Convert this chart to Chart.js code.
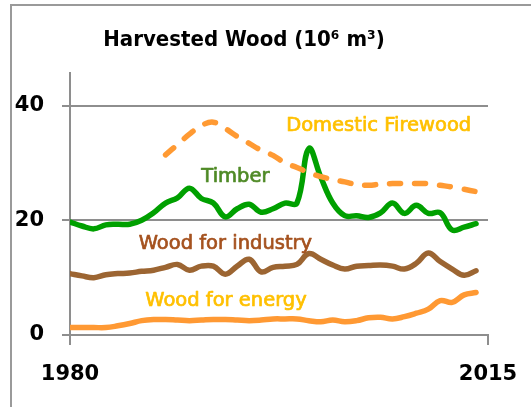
<!DOCTYPE html>
<html>
<head>
<meta charset="utf-8">
<script src="https://cdn.jsdelivr.net/npm/chart.js@4/dist/chart.umd.min.js"></script>
<style>
  html, body { margin: 0; padding: 0; background: #ffffff; }
  #wrap { position: relative; width: 531px; height: 407px; }
</style>
</head>
<body>
<div id="wrap"><canvas id="c" width="531" height="407"></canvas></div>
<script>
// ---- data ----
const years = [1980,1981,1982,1983,1984,1985,1986,1987,1988,1989,1990,1991,1992,1993,1994,1995,1996,1997,1998,1999,2000,2001,2002,2003,2004,2005,2006,2007,2008,2009,2010,2011,2012,2013,2014];
const timber = [19.7,19.0,18.5,19.2,19.3,19.3,20.0,21.3,23.0,23.9,25.6,23.8,23.0,20.6,22.0,22.8,21.4,22.0,23.0,23.0,32.5,27.5,23.0,20.8,20.8,20.5,21.3,23.0,21.2,22.6,21.2,21.3,18.3,18.8,19.4];
const woodIndustry = [10.7,10.3,10.0,10.5,10.7,10.8,11.1,11.3,11.8,12.3,11.3,12.0,12.0,10.6,12.0,13.2,11.0,11.8,12.0,12.3,14.2,13.2,12.2,11.5,12.0,12.1,12.2,12.0,11.5,12.5,14.3,12.8,11.5,10.4,11.2];
const woodEnergy = [1.3,1.3,1.3,1.3,1.6,2.0,2.5,2.7,2.7,2.6,2.5,2.6,2.7,2.7,2.6,2.5,2.6,2.8,2.8,2.8,2.5,2.3,2.6,2.3,2.5,3.0,3.1,2.8,3.2,3.8,4.5,6.0,5.7,7.0,7.4];
const domesticFirewood = [null,null,null,null,null,null,null,null,31.4,33.2,35.0,36.5,37.1,36.0,34.6,33.4,32.2,31.3,30.0,29.2,28.3,27.6,27.1,26.7,26.2,26.1,26.3,26.4,26.4,26.4,26.4,26.1,25.8,25.4,25.0];
const yTicks = [0, 20, 40];
const xTicks = [1980, 2015];
const titleText = 'Harvested Wood (10\u2076 m\u00B3)';
// series labels drawn next to their lines: [text, anchor year, anchor value]
const seriesLabels = [
  ['Domestic Firewood', 1998.1, 35.5],
  ['Timber', 1991.0, 26.7],
  ['Wood for industry', 1985.75, 14.95],
  ['Wood for energy', 1986.3, 5.1]
];
// ---------------------------------------------

const labelColors = ['#FFC000', '#4F8A26', '#A5521F', '#FFC000'];
const pts = arr => years.map((y, i) => ({x: y, y: arr[i]}));

const frame = {
  id: 'frame',
  beforeDraw(chart) {
    const ctx = chart.ctx;
    ctx.save();
    ctx.strokeStyle = '#9A9A9A';
    ctx.lineWidth = 2;
    ctx.beginPath();
    ctx.moveTo(531, 5);
    ctx.lineTo(11, 5);
    ctx.lineTo(11, 407);
    ctx.stroke();
    ctx.restore();
  }
};

const seriesText = {
  id: 'seriesText',
  afterDatasetsDraw(chart) {
    const ctx = chart.ctx;
    const xs = chart.scales.x, ys = chart.scales.y;
    ctx.save();
    ctx.font = '19.5px "DejaVu Sans"';
    ctx.textAlign = 'left';
    ctx.textBaseline = 'alphabetic';
    ctx.lineWidth = 0.7;
    ctx.lineJoin = 'round';
    seriesLabels.forEach((s, i) => {
      const px = xs.getPixelForValue(s[1]);
      const py = ys.getPixelForValue(s[2]);
      ctx.fillStyle = labelColors[i];
      ctx.strokeStyle = labelColors[i];
      ctx.fillText(s[0], px, py);
      ctx.strokeText(s[0], px, py);
    });
    ctx.restore();
  }
};

new Chart(document.getElementById('c'), {
  type: 'line',
  data: {
    datasets: [
      { label: 'Domestic Firewood', data: pts(domesticFirewood), borderColor: '#FF9A33', borderWidth: 5.5, borderDash: [11, 14], borderCapStyle: 'round', tension: 0.4, pointRadius: 0, spanGaps: false },
      { label: 'Timber', data: pts(timber), borderColor: '#00A000', borderWidth: 5.5, tension: 0.4, pointRadius: 0, borderJoinStyle: 'round', borderCapStyle: 'round' },
      { label: 'Wood for industry', data: pts(woodIndustry), borderColor: '#9C6532', borderWidth: 5.5, tension: 0.4, pointRadius: 0, borderJoinStyle: 'round', borderCapStyle: 'round' },
      { label: 'Wood for energy', data: pts(woodEnergy), borderColor: '#FF9933', borderWidth: 5.5, tension: 0.4, pointRadius: 0, borderJoinStyle: 'round', borderCapStyle: 'round' }
    ]
  },
  options: {
    responsive: false,
    animation: false,
    events: [],
    layout: { padding: { left: 0, right: 43, top: 0, bottom: 0 } },
    plugins: {
      legend: { display: false },
      tooltip: { enabled: false },
      title: {
        display: true,
        text: titleText,
        color: '#000000',
        font: { family: '"DejaVu Sans Condensed", "DejaVu Sans"', weight: 'bold', size: 22 },
        padding: { top: 27, bottom: 20 }
      }
    },
    scales: {
      x: {
        type: 'linear',
        min: 1980,
        max: 2015,
        afterBuildTicks: s => { s.ticks = xTicks.map(v => ({value: v})); },
        afterFit: s => { s.height = 72; s.paddingLeft = 0; s.paddingRight = 0; },
        ticks: { color: '#000000', font: { family: '"DejaVu Sans"', weight: 'bold', size: 21 }, padding: 17, maxRotation: 0, autoSkip: false, callback: v => String(v) },
        grid: { drawOnChartArea: false, drawTicks: true, tickLength: 10, color: '#8E8E8E', lineWidth: 2 },
        border: { display: true, color: '#8E8E8E', width: 2 }
      },
      y: {
        min: 0,
        max: 45.6,
        afterBuildTicks: s => { s.ticks = yTicks.map(v => ({value: v})); },
        afterFit: s => { s.width = 70; s.paddingTop = 0; s.paddingBottom = 0; },
        ticks: { color: '#000000', font: { family: '"DejaVu Sans"', weight: 'bold', size: 21 }, padding: 18, callback: v => String(v) },
        grid: { color: '#8E8E8E', lineWidth: 2, tickLength: 8 },
        border: { display: true, color: '#8E8E8E', width: 2 }
      }
    }
  },
  plugins: [frame, seriesText]
});
</script>
</body>
</html>
